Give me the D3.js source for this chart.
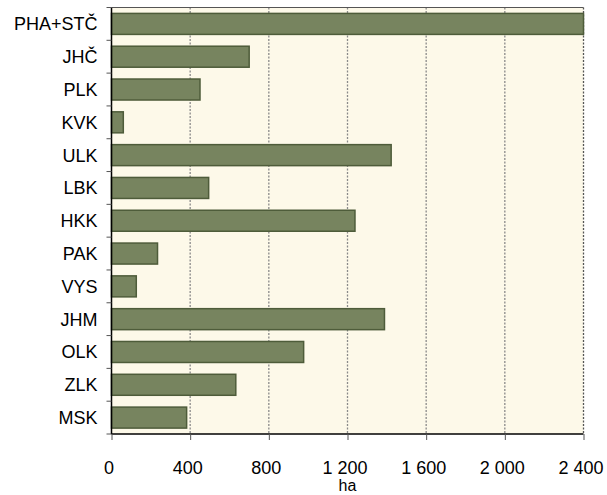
<!DOCTYPE html>
<html>
<head>
<meta charset="utf-8">
<script src="https://cdn.jsdelivr.net/npm/d3@7"></script>
<style>
  body { margin: 0; background: #fff; }
  text { font-family: "Liberation Sans", Arial, sans-serif; }
</style>
</head>
<body>
<div id="chart"></div>
<script>
// data
var regions = ["PHA+STČ", "JHČ", "PLK", "KVK", "ULK", "LBK", "HKK", "PAK", "VYS", "JHM", "OLK", "ZLK", "MSK"];
var areas = [2400, 700, 450, 60, 1422, 494, 1238, 234, 126, 1388, 977, 632, 382];
var xTicks = [0, 400, 800, 1200, 1600, 2000, 2400];
var xTitle = "ha";

// set the dimensions and margins of the graph
var margin = {top: 7.5, right: 23.5, bottom: 61, left: 111.5},
    width = 607 - margin.left - margin.right,
    height = 495 - margin.top - margin.bottom;

var svg = d3.select("#chart")
    .append("svg")
    .attr("width", 607)
    .attr("height", 495)
    .append("g")
    .attr("transform", "translate(" + margin.left + "," + margin.top + ")");

var x = d3.scaleLinear()
    .domain([0, 2400])
    .range([0, width]);

var y = d3.scaleBand()
    .domain(regions)
    .range([0, height])
    .paddingInner(0.36)
    .paddingOuter(0.18);

// plot background
svg.append("rect")
    .attr("width", width)
    .attr("height", height)
    .style("fill", "#fdf9e9");

// dotted grid lines
svg.append("g")
    .selectAll("line")
    .data(xTicks.slice(1))
    .enter()
    .append("line")
    .attr("x1", function (d) { return x(d); })
    .attr("x2", function (d) { return x(d); })
    .attr("y1", 0)
    .attr("y2", height)
    .style("stroke", function (d) { return d === 2400 ? "#555" : "#8a8a8a"; })
    .style("stroke-width", 1.3)
    .style("stroke-dasharray", "2,1.5");

// top border
svg.append("line")
    .attr("x1", 0).attr("x2", width)
    .attr("y1", 0).attr("y2", 0)
    .style("stroke", "#555")
    .style("stroke-width", 1);

// bars
svg.append("g")
    .selectAll("rect")
    .data(areas)
    .enter()
    .append("rect")
    .attr("x", 0)
    .attr("y", function (d, i) { return y(regions[i]); })
    .attr("width", function (d) { return x(d); })
    .attr("height", y.bandwidth())
    .style("fill", "#77845f")
    .style("stroke", "#4e5c3a")
    .style("stroke-width", 1.5);

// Y axis: ticks sit on the band boundaries
var yAxis = svg.append("g");
yAxis.append("line")
    .attr("x1", 0).attr("x2", 0)
    .attr("y1", 0).attr("y2", height)
    .style("stroke", "#000")
    .style("stroke-width", 1.5);
yAxis.selectAll(".tk")
    .data(d3.range(regions.length + 1))
    .enter()
    .append("line")
    .attr("class", "tk")
    .attr("x1", -5).attr("x2", 0)
    .attr("y1", function (d) { return d * height / regions.length; })
    .attr("y2", function (d) { return d * height / regions.length; })
    .style("stroke", "#555")
    .style("stroke-width", 1);
yAxis.selectAll("text")
    .data(regions)
    .enter()
    .append("text")
    .attr("x", -14)
    .attr("y", function (d) { return y(d) + y.bandwidth() / 2; })
    .attr("dy", "0.36em")
    .attr("text-anchor", "end")
    .style("font-size", "18px")
    .style("fill", "#000")
    .text(function (d) { return d; });

// X axis
var fmt = function (d) { return d3.format(",")(d).replace(/,/g, " "); };
var xAxis = svg.append("g")
    .attr("transform", "translate(0," + height + ")")
    .call(d3.axisBottom(x).tickValues(xTicks).tickSize(6).tickFormat(fmt));
xAxis.select(".domain")
    .style("stroke", "#000")
    .style("stroke-width", 1.5)
    .attr("d", "M0,0H" + width);
xAxis.selectAll(".tick line").style("stroke", "#555");
xAxis.selectAll(".tick text")
    .attr("y", 27)
    .attr("dx", "-3")
    .style("font-size", "18px")
    .style("font-family", "'Liberation Sans', Arial, sans-serif")
    .style("fill", "#000");

svg.append("text")
    .attr("x", x(1200))
    .attr("y", height + 57)
    .attr("text-anchor", "middle")
    .style("font-size", "16px")
    .text(xTitle);
</script>
</body>
</html>
